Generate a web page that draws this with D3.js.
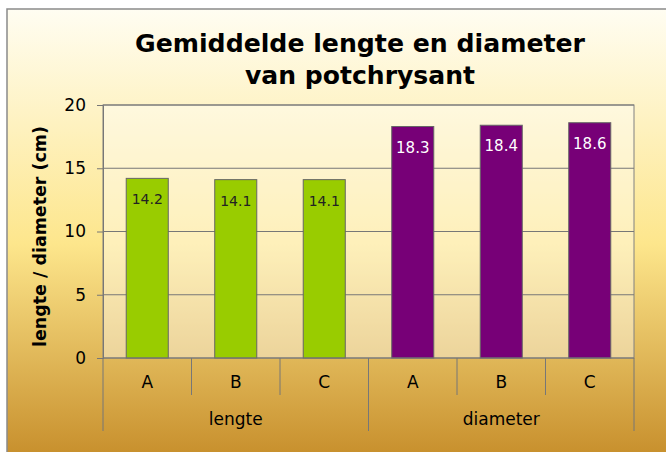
<!DOCTYPE html>
<html>
<head>
<meta charset="utf-8">
<script src="https://cdn.jsdelivr.net/npm/d3@7"></script>
<style>
  html, body { margin: 0; padding: 0; background: #fff; }
  svg { display: block; font-family: "DejaVu Sans", Verdana, sans-serif; }
</style>
</head>
<body>
<div id="chart"></div>
<script>
// chart data
const groups = ["lengte", "diameter"];
const subCats = ["A", "B", "C"];
const lengte = [14.2, 14.1, 14.1];
const diameter = [18.3, 18.4, 18.6];
const yTicks = [0, 5, 10, 15, 20];
const titleLines = ["Gemiddelde lengte en diameter", "van potchrysant"];
const yTitle = "lengte / diameter (cm)";

const seriesValues = { lengte: lengte, diameter: diameter };
const colors = { lengte: "#99cc00", diameter: "#770077" };
const labelColors = { lengte: "#222", diameter: "#fff" };

// flat list of bars
let data = [];
groups.forEach(function (g) {
  subCats.forEach(function (c, i) {
    data.push({ group: g, cat: c, key: g + "-" + c, value: seriesValues[g][i] });
  });
});

const W = 666, H = 452;
const plot = { left: 103, right: 634, top: 105, bottom: 358 };

let svg = d3.select("#chart").append("svg")
  .attr("width", W)
  .attr("height", H);

// background gradient
let defs = svg.append("defs");
let bg = defs.append("linearGradient").attr("id", "bg")
  .attr("x1", 0).attr("y1", 0).attr("x2", 0).attr("y2", 1);
bg.append("stop").attr("offset", "0%").attr("stop-color", "#fffdf2");
bg.append("stop").attr("offset", "52%").attr("stop-color", "#fde68c");
bg.append("stop").attr("offset", "100%").attr("stop-color", "#c68d2a");

svg.append("rect")
  .attr("x", 7).attr("y", 9)
  .attr("width", W).attr("height", H)
  .attr("fill", "url(#bg)")
  .attr("stroke", "#8a8a8a")
  .attr("stroke-width", 1.5);

// title (widths)
const titleWidths = [450, 230];
svg.append("g").selectAll("text")
  .data(titleLines)
  .enter().append("text")
  .attr("x", 360)
  .attr("y", function (d, i) { return 52 + i * 32; })
  .attr("text-anchor", "middle")
  .attr("font-size", 25)
  .attr("font-weight", "bold")
  .attr("fill", "#000")
  .attr("textLength", function (d, i) { return titleWidths[i]; })
  .attr("lengthAdjust", "spacingAndGlyphs")
  .text(function (d) { return d; });

// scales
let x = d3.scaleBand()
  .domain(data.map(function (d) { return d.key; }))
  .range([plot.left, plot.right])
  .paddingInner(0.525)
  .paddingOuter(0.2625);

let y = d3.scaleLinear()
  .domain([0, 20])
  .range([plot.bottom, plot.top]);

// plot area
svg.append("rect")
  .attr("x", plot.left).attr("y", plot.top)
  .attr("width", plot.right - plot.left)
  .attr("height", plot.bottom - plot.top)
  .attr("fill", "#fff")
  .attr("fill-opacity", 0.4)
  .attr("stroke", "#808080");

// gridlines
svg.append("g").selectAll("line")
  .data(yTicks.filter(function (t) { return t > 0; }))
  .enter().append("line")
  .attr("x1", plot.left).attr("x2", plot.right)
  .attr("y1", function (d) { return y(d); })
  .attr("y2", function (d) { return y(d); })
  .attr("stroke", "#777");

// y axis
let yAxis = svg.append("g")
  .attr("transform", "translate(" + plot.left + ",0)")
  .call(d3.axisLeft(y).tickValues(yTicks).tickSize(6).tickPadding(11));
yAxis.select(".domain").attr("stroke", "#777");
yAxis.selectAll(".tick line").attr("stroke", "#777");
yAxis.selectAll("text")
  .attr("font-family", "DejaVu Sans, sans-serif")
  .attr("font-size", 17)
  .attr("fill", "#000");

// y axis title
svg.append("text")
  .attr("transform", "translate(46," + ((plot.top + plot.bottom) / 2 + 5) + ") rotate(-90)")
  .attr("text-anchor", "middle")
  .attr("font-size", 17)
  .attr("font-weight", "bold")
  .attr("textLength", 221)
  .attr("lengthAdjust", "spacingAndGlyphs")
  .text(yTitle);

// bars
svg.append("g").selectAll("rect")
  .data(data)
  .enter().append("rect")
  .attr("x", function (d) { return x(d.key); })
  .attr("width", x.bandwidth())
  .attr("y", function (d) { return y(d.value); })
  .attr("height", function (d) { return y(0) - y(d.value); })
  .attr("fill", function (d) { return colors[d.group]; })
  .attr("stroke", "#666")
  .attr("stroke-width", 1);

// value labels
svg.append("g").selectAll("text")
  .data(data)
  .enter().append("text")
  .attr("x", function (d) { return x(d.key) + x.bandwidth() / 2; })
  .attr("y", function (d) { return y(d.value) + 26; })
  .attr("text-anchor", "middle")
  .attr("font-size", function (d) { return d.group === "diameter" ? 15 : 14; })
  .attr("fill", function (d) { return labelColors[d.group]; })
  .text(function (d) { return d.value.toFixed(1); });

// category axis (two levels)
let step = x.step();
let catAxis = svg.append("g");
catAxis.append("line")
  .attr("x1", plot.left).attr("x2", plot.right)
  .attr("y1", plot.bottom).attr("y2", plot.bottom)
  .attr("stroke", "#777");

// boundaries between categories, longer ones between groups
let bounds = d3.range(data.length + 1);
catAxis.selectAll(".bound")
  .data(bounds)
  .enter().append("line")
  .attr("class", "bound")
  .attr("x1", function (i) { return plot.left + i * step; })
  .attr("x2", function (i) { return plot.left + i * step; })
  .attr("y1", plot.bottom)
  .attr("y2", function (i) { return i % subCats.length === 0 ? 431 : 395; })
  .attr("stroke", "#777");

catAxis.selectAll(".cat")
  .data(data)
  .enter().append("text")
  .attr("class", "cat")
  .attr("x", function (d) { return x(d.key) + x.bandwidth() / 2; })
  .attr("y", 388)
  .attr("text-anchor", "middle")
  .attr("font-size", 17)
  .text(function (d) { return d.cat; });

catAxis.selectAll(".grp")
  .data(groups)
  .enter().append("text")
  .attr("class", "grp")
  .attr("x", function (g, i) { return plot.left + (i * subCats.length + subCats.length / 2) * step; })
  .attr("y", 425)
  .attr("text-anchor", "middle")
  .attr("font-size", 17)
  .text(function (g) { return g; });
</script>
</body>
</html>
